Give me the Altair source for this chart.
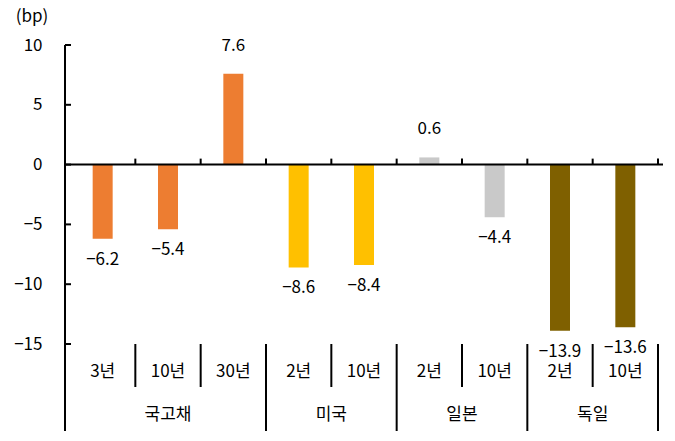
import altair as alt
import pandas as pd

groups = ["국고채", "국고채", "국고채", "미국", "미국", "일본", "일본", "독일", "독일"]
subs = ["3년", "10년", "30년", "2년", "10년", "2년", "10년", "2년", "10년"]
values = [-6.2, -5.4, 7.6, -8.6, -8.4, 0.6, -4.4, -13.9, -13.6]
group_order = ["국고채", "미국", "일본", "독일"]
group_colors = ["#ED7D31", "#FFC000", "#C9C9C9", "#7F6000"]
y_ticks = [-15, -10, -5, 0, 5, 10]

FONT = "Noto Sans CJK KR"
FS = 17
W, H = 598, 299

df = pd.DataFrame({"group": groups, "sub": subs, "value": values})
df["pos"] = [i + 0.5 for i in range(len(df))]

gdf = df.groupby("group", sort=False).agg(center=("pos", "mean")).reset_index()

sep_rows = []
for i in range(1, len(groups) + 1):
    long = i == len(groups) or groups[i] != groups[i - 1]
    sep_rows.append({"b": i, "kind": "long" if long else "short"})
sdf = pd.DataFrame(sep_rows)
zdf = pd.DataFrame({"b": list(range(1, len(groups) + 1))})
tdf = pd.DataFrame({"t": y_ticks})

xs = alt.Scale(domain=[0, len(groups)], nice=False, zero=False)
ys = alt.Scale(domain=[-15, 10], nice=False)

base = alt.Chart(df)

bars = base.mark_bar(size=20).encode(
    x=alt.X("pos:Q", scale=xs, axis=None),
    y=alt.Y("value:Q", scale=ys, axis=alt.Axis(
        values=y_ticks, ticks=False, tickSize=0, domain=False, grid=False,
        labelPadding=23, labelFont=FONT, labelFontSize=FS, labelColor="black", title=None)),
    color=alt.Color("group:N", scale=alt.Scale(domain=group_order, range=group_colors), legend=None),
)

lab_pos = base.transform_filter("datum.value >= 0").mark_text(
    font=FONT, fontSize=FS, dy=-28, baseline="middle", color="black").encode(
    x=alt.X("pos:Q", scale=xs), y=alt.Y("value:Q", scale=ys),
    text=alt.Text("value:Q", format=".1f"))
lab_neg = base.transform_filter("datum.value < 0").mark_text(
    font=FONT, fontSize=FS, dy=21, baseline="middle", color="black").encode(
    x=alt.X("pos:Q", scale=xs), y=alt.Y("value:Q", scale=ys),
    text=alt.Text("value:Q", format=".1f"))

zero_line = alt.Chart(tdf).transform_filter("datum.t == 0").mark_rule(
    color="black", strokeWidth=2).encode(
    y=alt.Y("t:Q", scale=ys), x=alt.value(0), x2=alt.value(W))

zero_ticks = alt.Chart(zdf).mark_rule(color="black", strokeWidth=2).encode(
    x=alt.X("b:Q", scale=xs), y=alt.datum(0), y2=alt.datum(0.5))

y_tick_marks = alt.Chart(tdf).mark_rule(color="black", strokeWidth=2).encode(
    y=alt.Y("t:Q", scale=ys), x=alt.value(0), x2=alt.value(6))

y_line = alt.Chart(tdf).transform_filter("datum.t == 0").mark_rule(
    color="black", strokeWidth=2).encode(
    x=alt.value(0), y=alt.value(0), y2=alt.value(386))

sep_short = alt.Chart(sdf).transform_filter("datum.kind == 'short'").mark_rule(
    color="black", strokeWidth=2).encode(
    x=alt.X("b:Q", scale=xs), y=alt.value(299), y2=alt.value(342))
sep_long = alt.Chart(sdf).transform_filter("datum.kind == 'long'").mark_rule(
    color="black", strokeWidth=2).encode(
    x=alt.X("b:Q", scale=xs), y=alt.value(299), y2=alt.value(386))

sub_labels = base.mark_text(font=FONT, fontSize=FS, baseline="middle", color="black").encode(
    x=alt.X("pos:Q", scale=xs), y=alt.value(327), text="sub:N")

grp_labels = alt.Chart(gdf).mark_text(font=FONT, fontSize=FS, baseline="middle", color="black").encode(
    x=alt.X("center:Q", scale=xs), y=alt.value(370), text="group:N")

unit = alt.Chart(tdf).transform_filter("datum.t == 0").mark_text(
    font=FONT, fontSize=FS, baseline="middle", color="black").encode(
    x=alt.value(-33), y=alt.value(-28), text=alt.value("(bp)"))

chart = alt.layer(
    bars, lab_pos, lab_neg, zero_line, zero_ticks, y_tick_marks, y_line,
    sep_short, sep_long, sub_labels, grp_labels, unit
).properties(
    width=W, height=H,
    autosize=alt.AutoSizeParams(type="none"),
    padding={"left": 65, "top": 45, "right": 12, "bottom": 97},
    background="white",
).configure_view(stroke=None)

chart.save("out.html", embed_options={"renderer": "svg", "actions": False})
